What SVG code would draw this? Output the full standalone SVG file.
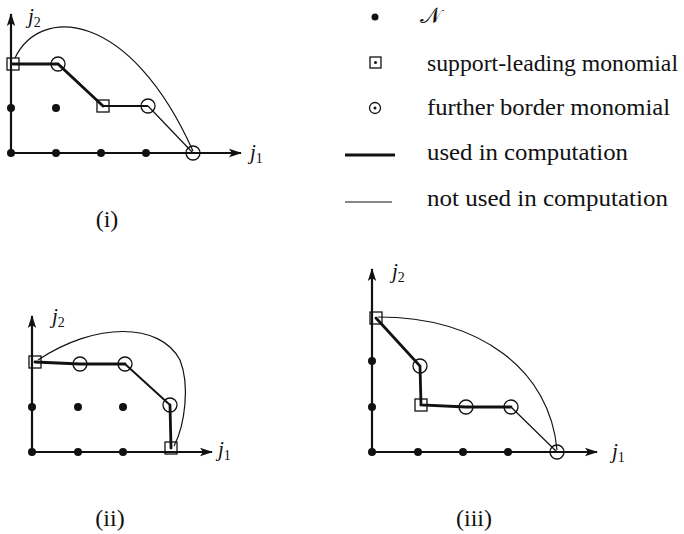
<svg xmlns="http://www.w3.org/2000/svg" width="684" height="534" viewBox="0 0 684 534">
<style>
.axis{stroke:#111;stroke-width:2.2;fill:none}
.used{stroke:#111;stroke-width:2.8;fill:none;stroke-linecap:round}
.mid{stroke:#111;stroke-width:1.9;fill:none}
.thin{stroke:#111;stroke-width:1.2;fill:none}
.dot{fill:#111}
.sq{fill:#fff;stroke:#111;stroke-width:1.3}
.ci{fill:none;stroke:#111;stroke-width:1.3}
.t{font-family:"Liberation Serif","DejaVu Serif",serif;fill:#111}
.lg{font-size:24px}
.lab{font-size:24px}
.j{font-family:"Liberation Serif","DejaVu Serif",serif;font-style:italic;font-size:21px;fill:#111}
.sub{font-size:14px;font-style:normal}
</style>
<defs>
<marker id="arr" markerUnits="userSpaceOnUse" markerWidth="14" markerHeight="10" refX="12" refY="5" orient="auto">
<path d="M0,0.8 L13,5 L0,9.2 L3,5 Z" fill="#111"/>
</marker>
</defs>

<g id="diagram-i">
<g id="axes-i">
<line class="axis" x1="11" y1="153" x2="11" y2="14" marker-end="url(#arr)"/>
<line class="axis" x1="11" y1="153" x2="241" y2="153" marker-end="url(#arr)"/>
</g>
<text class="j" x="28" y="23">j<tspan class="sub" dy="4">2</tspan></text>
<text class="j" x="250" y="159">j<tspan class="sub" dy="4">1</tspan></text>
<g id="connectors-i">
<path class="thin" d="M15 58 C40 5, 130 10, 193 151"/>
<polyline class="used" points="13,64 58,64 103,106"/>
<line class="mid" x1="103" y1="106" x2="148" y2="106"/>
<line class="thin" x1="148" y1="106" x2="193" y2="153"/>
</g>
<g id="nodes-i">
<circle class="dot" cx="11" cy="153" r="4"/>
<circle class="dot" cx="56" cy="153" r="4"/>
<circle class="dot" cx="101" cy="153" r="4"/>
<circle class="dot" cx="146" cy="153" r="4"/>
<circle class="dot" cx="11" cy="108" r="4"/>
<circle class="dot" cx="56" cy="108" r="4"/>
<rect class="sq" x="7" y="58" width="12" height="12" fill-opacity="0"/>
<circle class="ci" cx="58" cy="64" r="7"/>
<rect class="sq" x="97" y="100" width="12" height="12" fill-opacity="0"/>
<circle class="ci" cx="148" cy="106" r="7"/>
<circle class="ci" cx="193" cy="153" r="7"/>
</g>
<text class="t lab" x="107" y="227" text-anchor="middle">(i)</text>
</g>

<g id="diagram-ii">
<g id="axes-ii">
<line class="axis" x1="32" y1="452" x2="32" y2="316" marker-end="url(#arr)"/>
<line class="axis" x1="32" y1="452" x2="212" y2="452" marker-end="url(#arr)"/>
</g>
<text class="j" x="52" y="323">j<tspan class="sub" dy="4">2</tspan></text>
<text class="j" x="218" y="456">j<tspan class="sub" dy="4">1</tspan></text>
<g id="connectors-ii">
<path class="thin" d="M38 360 C95 322, 160 322, 180 360 C190 385, 185 425, 174 446"/>
<polyline class="used" points="35,362 80,364 125,364"/>
<line class="mid" x1="125" y1="364" x2="170" y2="405"/>
<line class="used" x1="170" y1="405" x2="171" y2="448"/>
</g>
<g id="nodes-ii">
<circle class="dot" cx="32" cy="452" r="4"/>
<circle class="dot" cx="78" cy="452" r="4"/>
<circle class="dot" cx="123" cy="452" r="4"/>
<circle class="dot" cx="32" cy="407" r="4"/>
<circle class="dot" cx="78" cy="407" r="4"/>
<circle class="dot" cx="123" cy="407" r="4"/>
<rect class="sq" x="29" y="356" width="12" height="12" fill-opacity="0"/>
<circle class="ci" cx="80" cy="364" r="7"/>
<circle class="ci" cx="125" cy="364" r="7"/>
<circle class="ci" cx="170" cy="405" r="7"/>
<rect class="sq" x="165" y="442" width="12" height="12" fill-opacity="0"/>
</g>
<text class="t lab" x="110" y="526" text-anchor="middle">(ii)</text>
</g>

<g id="diagram-iii">
<g id="axes-iii">
<line class="axis" x1="372" y1="452" x2="372" y2="269" marker-end="url(#arr)"/>
<line class="axis" x1="372" y1="452" x2="597" y2="452" marker-end="url(#arr)"/>
</g>
<text class="j" x="392" y="278">j<tspan class="sub" dy="4">2</tspan></text>
<text class="j" x="612" y="458">j<tspan class="sub" dy="4">1</tspan></text>
<g id="connectors-iii">
<path class="thin" d="M378 317 C480 317, 550 370, 557 450"/>
<polyline class="used" points="376,318 420,366 421,405 466,407 511,407"/>
<line class="thin" x1="511" y1="407" x2="557" y2="452"/>
</g>
<g id="nodes-iii">
<circle class="dot" cx="372" cy="452" r="4"/>
<circle class="dot" cx="418" cy="452" r="4"/>
<circle class="dot" cx="463" cy="452" r="4"/>
<circle class="dot" cx="508" cy="452" r="4"/>
<circle class="dot" cx="372" cy="407" r="4"/>
<circle class="dot" cx="372" cy="361" r="4"/>
<rect class="sq" x="370" y="312" width="12" height="12" fill-opacity="0"/>
<circle class="ci" cx="420" cy="366" r="7"/>
<rect class="sq" x="415" y="399" width="12" height="12" fill-opacity="0"/>
<circle class="ci" cx="466" cy="407" r="7"/>
<circle class="ci" cx="511" cy="407" r="7"/>
<circle class="ci" cx="557" cy="452" r="7"/>
</g>
<text class="t lab" x="474" y="526" text-anchor="middle">(iii)</text>
</g>

<g id="legend">
<circle class="dot" cx="375" cy="17" r="3.5"/>
<text class="t" x="420" y="23" font-size="22">𝒩</text>
<rect class="sq" x="370" y="57" width="11" height="11"/>
<circle class="dot" cx="375.5" cy="62.5" r="1.5"/>
<text class="t lg" x="427" y="71" textLength="251" lengthAdjust="spacingAndGlyphs">support-leading monomial</text>
<circle class="ci" cx="375" cy="108" r="5.5"/>
<circle class="dot" cx="375" cy="108" r="1.5"/>
<text class="t lg" x="427" y="115" textLength="243" lengthAdjust="spacingAndGlyphs">further border monomial</text>
<line x1="345" y1="155" x2="395" y2="155" stroke="#111" stroke-width="3"/>
<text class="t lg" x="427" y="160" textLength="201" lengthAdjust="spacingAndGlyphs">used in computation</text>
<line x1="345" y1="202" x2="392" y2="202" stroke="#111" stroke-width="1.2"/>
<text class="t lg" x="427" y="206" textLength="241" lengthAdjust="spacingAndGlyphs">not used in computation</text>
</g>
</svg>
